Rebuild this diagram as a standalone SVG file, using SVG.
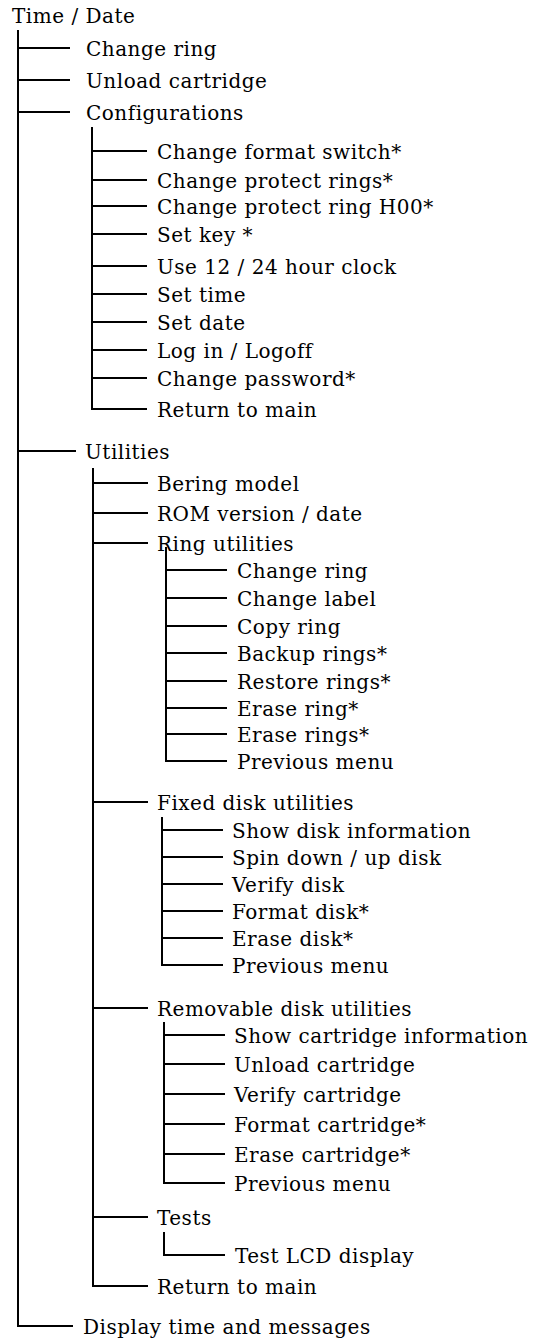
<svg xmlns="http://www.w3.org/2000/svg" width="533" height="1340" viewBox="0 0 533 1340">
<style>
text{font-family:"DejaVu Serif","Liberation Serif",serif;font-size:20px;letter-spacing:0.5px;fill:#000}
.c path{fill:none;stroke:#000;stroke-width:2}
</style>
<rect width="533" height="1340" fill="#fff"/>
<g class="c" id="connectors">
<path d="M18 30V1326H73M18 48H70M18 80H70M18 112H70M18 451H76"/>
<path d="M92 127V409H147M92 151H147M92 180H147M92 206H147M92 234H147M92 266H147M92 294H147M92 322H147M92 350H147M92 378H147"/>
<path d="M93 468V1286H148M93 483H148M93 513H148M93 543H148M93 802H148M93 1008H148M93 1217H148"/>
<path d="M166 547V761H227M166 570H227M166 598H227M166 626H227M166 653H227M166 681H227M166 708H227M166 734H227"/>
<path d="M162 817V965H223M162 830H223M162 857H223M162 884H223M162 911H223M162 938H223"/>
<path d="M164 1022V1183H225M164 1035H225M164 1064H225M164 1094H225M164 1124H225M164 1154H225"/>
<path d="M164 1232V1255H225"/>
</g>
<g id="n0"><text x="12" y="23">Time / Date</text></g>
<g id="n1"><text x="86" y="56">Change ring</text></g>
<g id="n2"><text x="86" y="88">Unload cartridge</text></g>
<g id="n3"><text x="86" y="120">Configurations</text></g>
<g id="n3a"><text x="157" y="159">Change format switch*</text></g>
<g id="n3b"><text x="157" y="188">Change protect rings*</text></g>
<g id="n3c"><text x="157" y="214">Change protect ring H00*</text></g>
<g id="n3d"><text x="157" y="242">Set key *</text></g>
<g id="n3e"><text x="157" y="274">Use 12 / 24 hour clock</text></g>
<g id="n3f"><text x="157" y="302">Set time</text></g>
<g id="n3g"><text x="157" y="330">Set date</text></g>
<g id="n3h"><text x="157" y="358">Log in / Logoff</text></g>
<g id="n3i"><text x="157" y="386">Change password*</text></g>
<g id="n3j"><text x="157" y="417">Return to main</text></g>
<g id="n4"><text x="85" y="459">Utilities</text></g>
<g id="n4a"><text x="157" y="491">Bering model</text></g>
<g id="n4b"><text x="157" y="521">ROM version / date</text></g>
<g id="n4c"><text x="157" y="551">Ring utilities</text></g>
<g id="n4c1"><text x="237" y="578">Change ring</text></g>
<g id="n4c2"><text x="237" y="606">Change label</text></g>
<g id="n4c3"><text x="237" y="634">Copy ring</text></g>
<g id="n4c4"><text x="237" y="661">Backup rings*</text></g>
<g id="n4c5"><text x="237" y="689">Restore rings*</text></g>
<g id="n4c6"><text x="237" y="716">Erase ring*</text></g>
<g id="n4c7"><text x="237" y="742">Erase rings*</text></g>
<g id="n4c8"><text x="237" y="769">Previous menu</text></g>
<g id="n4d"><text x="157" y="810">Fixed disk utilities</text></g>
<g id="n4d1"><text x="232" y="838">Show disk information</text></g>
<g id="n4d2"><text x="232" y="865">Spin down / up disk</text></g>
<g id="n4d3"><text x="232" y="892">Verify disk</text></g>
<g id="n4d4"><text x="232" y="919">Format disk*</text></g>
<g id="n4d5"><text x="232" y="946">Erase disk*</text></g>
<g id="n4d6"><text x="232" y="973">Previous menu</text></g>
<g id="n4e"><text x="157" y="1016">Removable disk utilities</text></g>
<g id="n4e1"><text x="234" y="1043">Show cartridge information</text></g>
<g id="n4e2"><text x="234" y="1072">Unload cartridge</text></g>
<g id="n4e3"><text x="234" y="1102">Verify cartridge</text></g>
<g id="n4e4"><text x="234" y="1132">Format cartridge*</text></g>
<g id="n4e5"><text x="234" y="1162">Erase cartridge*</text></g>
<g id="n4e6"><text x="234" y="1191">Previous menu</text></g>
<g id="n4f"><text x="157" y="1225">Tests</text></g>
<g id="n4f1"><text x="235" y="1263">Test LCD display</text></g>
<g id="n4g"><text x="157" y="1294">Return to main</text></g>
<g id="n5"><text x="83" y="1334">Display time and messages</text></g>
</svg>
